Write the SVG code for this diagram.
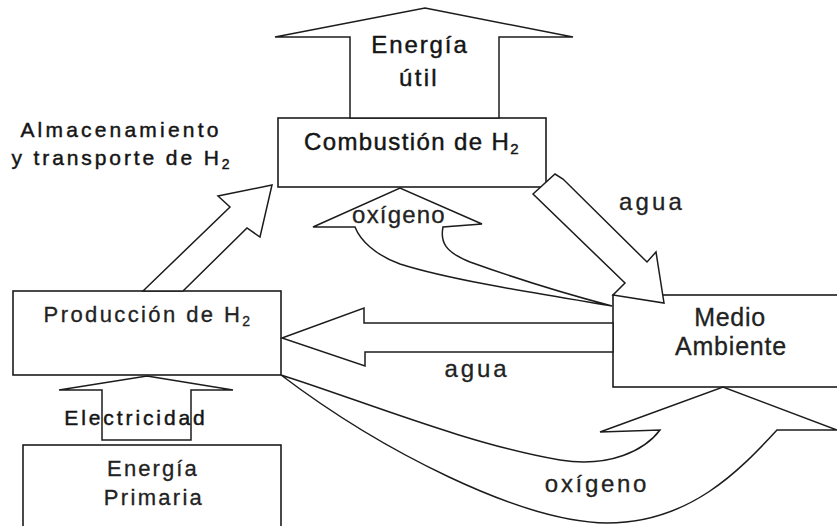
<svg xmlns="http://www.w3.org/2000/svg" width="837" height="526" viewBox="0 0 837 526">
<style>
.box{fill:#fff;stroke:#1c1c1c;stroke-width:1.6}
.arrow{fill:#fff;stroke:#1c1c1c;stroke-width:1.5;stroke-linejoin:miter}
text{font-family:"Liberation Sans",Arial,sans-serif;fill:#222;stroke:#222;stroke-width:0.3;text-anchor:middle}
.dark{fill:#151515;stroke:#151515;stroke-width:0.45}
</style>
<rect width="837" height="526" fill="#fff"/>
<g id="combustion">
<rect class="box" x="278" y="118" width="268" height="69"/>
<text class="dark" x="412" y="150" font-size="24" letter-spacing="1.4">Combustión de H<tspan font-size="15" dy="4">2</tspan></text>
</g>
<g id="produccion">
<rect class="box" x="13" y="291" width="268" height="84"/>
<text x="148" y="322" font-size="22" letter-spacing="2.4">Producción de H<tspan font-size="14" dy="4">2</tspan></text>
</g>
<g id="energia-primaria">
<rect class="box" x="23" y="445" width="258" height="90"/>
<text x="153" y="476" font-size="22" letter-spacing="2.1">Energía</text>
<text x="154" y="505" font-size="22" letter-spacing="2.3">Primaria</text>
</g>
<g id="medio-ambiente">
<rect class="box" x="613" y="295" width="240" height="92"/>
<text x="730" y="326" font-size="25" letter-spacing="0.7">Medio</text>
<text x="731" y="355" font-size="25" letter-spacing="0.8">Ambiente</text>
</g>
<g id="connectors">
<polygon id="energia-util" class="arrow" points="425,8 573,37 499,37 499,118 350,118 350,37 275,37"/>
<polygon id="almacenamiento" class="arrow" points="143,291 230,207 218,196 272,185 260,237 247,228 183,291"/>
<polygon id="electricidad" class="arrow" points="147,376 233,390 191,390 191,440 102,440 102,390 59,390"/>
<polygon id="agua-salida" class="arrow" points="533,194 555,174 563,179 647,262 656,252 664,303 613,295 625,283"/>
<polygon id="agua-entrada" class="arrow" points="613,323 364,323 364,308 282,338 365,366 365,352 613,352"/>
<path id="oxigeno-entrada" class="arrow" d="M355,227 L313,227 L400,188 L482,224 L443,227 C440,242 445,252 470,262 C520,280 570,295 612,306 C540,294 450,280 400,264 C375,255 360,240 355,227 Z"/>
<path id="oxigeno-salida" class="arrow" d="M281,375 C360,400 470,445 560,460 C610,468 645,450 660,430 L600,432 L723,387 L837,430 L777,430 C740,470 690,523 607,523 C520,522 380,450 281,375 Z"/>
</g>
<g id="labels">
<text class="dark" x="420" y="53" font-size="24" letter-spacing="1.9">Energía</text>
<text class="dark" x="419" y="86" font-size="24" letter-spacing="2.3">útil</text>
<text class="dark" x="121" y="137" font-size="21" letter-spacing="3.2">Almacenamiento</text>
<text class="dark" x="122" y="165" font-size="21" letter-spacing="2.9">y transporte de H<tspan font-size="14" dy="4">2</tspan></text>
<text class="dark" x="136" y="425" font-size="21" letter-spacing="2.9">Electricidad</text>
<text x="652" y="210" font-size="24" letter-spacing="3.1">agua</text>
<text x="477" y="377" font-size="24" letter-spacing="2.9">agua</text>
<text x="399" y="223" font-size="24" letter-spacing="1.2">oxígeno</text>
<text x="597" y="492" font-size="24" letter-spacing="2.7">oxígeno</text>
</g>
</svg>
